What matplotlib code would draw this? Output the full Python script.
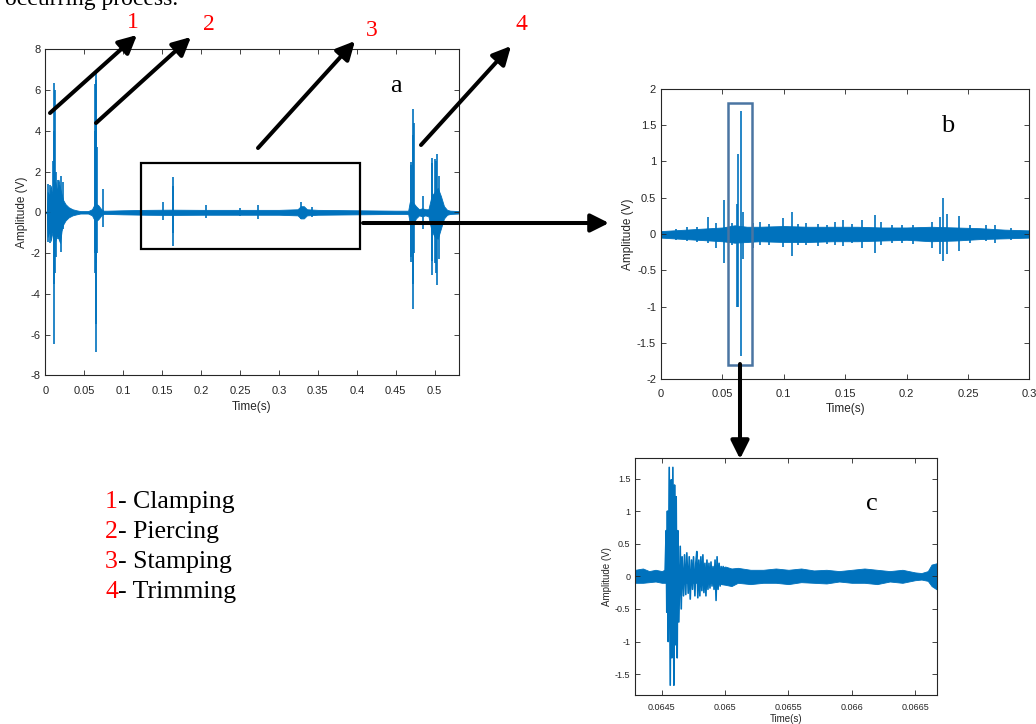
import numpy as np
import matplotlib
matplotlib.use("Agg")
import matplotlib.pyplot as plt
from matplotlib.patches import Rectangle
from matplotlib.ticker import FuncFormatter, MultipleLocator

# ---- panel a : whole record ----
a_env_t = [0, 0.002, 0.003, 0.005, 0.007, 0.009, 0.011, 0.013, 0.015, 0.017, 0.019, 0.021,
           0.023, 0.026, 0.030, 0.035, 0.040,
           0.045, 0.055, 0.060, 0.062, 0.064, 0.066, 0.068, 0.070, 0.072, 0.075, 0.080, 0.10,
           0.13, 0.16, 0.20, 0.25, 0.30, 0.324, 0.328, 0.332, 0.336, 0.35, 0.40, 0.45, 0.466,
           0.468, 0.472, 0.476, 0.480, 0.484, 0.488, 0.492, 0.496, 0.500, 0.504, 0.508, 0.512,
           0.516, 0.520, 0.531]
a_env_hi = [0.02, 0.05, 1.0, 0.8, 1.3, 0.9, 1.2, 1.5, 1.0, 1.6, 1.2, 0.9,
            0.6, 0.4, 0.25, 0.15, 0.1,
            0.06, 0.06, 0.15, 0.3, 0.4, 0.4, 0.35, 0.25, 0.15, 0.08, 0.08, 0.1,
            0.12, 0.13, 0.12, 0.12, 0.12, 0.15, 0.3, 0.3, 0.15, 0.12, 0.1, 0.08, 0.08,
            0.5, 0.5, 0.3, 0.15, 0.2, 0.15, 0.15, 0.8, 1.0, 1.2, 0.8, 0.3,
            0.12, 0.08, 0.06]
a_env_lo = [-0.02, -0.05, -1.2, -0.9, -1.4, -1.0, -1.3, -1.4, -1.1, -1.3, -1.5, -0.9,
            -0.6, -0.4, -0.25, -0.15, -0.1,
            -0.06, -0.06, -0.15, -0.3, -0.4, -0.4, -0.35, -0.25, -0.15, -0.08, -0.08, -0.1,
            -0.12, -0.13, -0.12, -0.12, -0.12, -0.15, -0.3, -0.3, -0.15, -0.12, -0.1, -0.08, -0.08,
            -0.5, -0.6, -0.3, -0.15, -0.2, -0.15, -0.2, -0.9, -1.2, -1.3, -0.8, -0.3,
            -0.12, -0.08, -0.06]
a_spk_t = [0.0035, 0.006, 0.0105, 0.0113, 0.0116, 0.0125, 0.0137, 0.0165, 0.0197, 0.0225,
           0.0638, 0.064, 0.0648, 0.0651, 0.0655, 0.0665, 0.0745, 0.1507, 0.1635, 0.1644,
           0.207, 0.25, 0.2735, 0.329, 0.343, 0.4692, 0.4695, 0.4722, 0.4726, 0.4735, 0.4853,
           0.4965, 0.4969, 0.500, 0.5022, 0.5026, 0.506]
a_spk_hi = [1.4, 1.35, 2.5, 4.0, 6.36, 6.0, 2.0, 1.6, 1.78, 1.5,
            4.0, 6.3, 6.5, 6.9, 4.3, 3.2, 1.13, 0.52, 1.3, 1.75,
            0.36, 0.2, 0.35, 0.52, 0.25, 2.3, 2.48, 3.8, 5.05, 4.4, 0.8,
            2.4, 2.65, 2.6, 2.5, 2.85, 1.8]
a_spk_lo = [-1.45, -1.5, -1.0, -3.5, -6.46, -3.0, -2.2, -1.3, -1.93, -0.8,
            -2.0, -3.0, -5.5, -6.84, -2.5, -2.0, -0.7, -0.38, -1.0, -1.65,
            -0.3, -0.2, -0.35, -0.34, -0.25, -2.2, -2.42, -3.5, -4.76, -2.0, -0.8,
            -2.4, -3.08, -2.5, -3.0, -3.57, -2.3]

# ---- panel b : stamping zoom ----
b_env_t = [0, 0.01, 0.02, 0.03, 0.04, 0.05, 0.06, 0.07, 0.08, 0.10, 0.12, 0.14, 0.16,
           0.18, 0.20, 0.22, 0.24, 0.26, 0.28, 0.30]
b_env_hi = [0.04, 0.05, 0.06, 0.07, 0.08, 0.09, 0.12, 0.1, 0.1, 0.11, 0.1, 0.1, 0.1,
            0.09, 0.09, 0.1, 0.09, 0.08, 0.06, 0.05]
b_env_lo = [-0.05, -0.06, -0.07, -0.08, -0.09, -0.1, -0.12, -0.11, -0.1, -0.11, -0.11, -0.1, -0.1,
            -0.09, -0.08, -0.1, -0.09, -0.07, -0.06, -0.05]
b_spk_t = [0.012, 0.021, 0.029, 0.0385, 0.045, 0.0513, 0.058, 0.0622, 0.063, 0.0649, 0.0665,
           0.075, 0.0805, 0.088, 0.099, 0.1065, 0.112, 0.118, 0.128, 0.135, 0.1417, 0.1485,
           0.156, 0.164, 0.1743, 0.179, 0.188, 0.196, 0.205, 0.2205, 0.227, 0.2298, 0.2327,
           0.2427, 0.252, 0.2645, 0.272, 0.285]
b_spk_hi = [0.07, 0.09, 0.1, 0.24, 0.15, 0.47, 0.15, 0.42, 1.11, 1.69, 0.3,
            0.15, 0.17, 0.14, 0.22, 0.31, 0.14, 0.15, 0.14, 0.13, 0.17, 0.19,
            0.14, 0.19, 0.26, 0.16, 0.13, 0.12, 0.13, 0.17, 0.24, 0.49, 0.28,
            0.25, 0.12, 0.12, 0.13, 0.08]
b_spk_lo = [-0.08, -0.09, -0.11, -0.13, -0.2, -0.4, -0.15, -1.0, -1.0, -1.68, -0.35,
            -0.2, -0.15, -0.15, -0.18, -0.31, -0.15, -0.15, -0.16, -0.14, -0.15, -0.17,
            -0.13, -0.2, -0.26, -0.15, -0.13, -0.12, -0.14, -0.2, -0.27, -0.37, -0.27,
            -0.23, -0.13, -0.1, -0.12, -0.08]

# ---- panel c : single piercing event ----
c_env_t = [0.06429, 0.06435, 0.06440, 0.06445, 0.06450, 0.06452, 0.06470, 0.06490, 0.06500,
           0.06505, 0.06510, 0.06520, 0.06530, 0.06540, 0.06550, 0.06560, 0.06570, 0.06580,
           0.06590, 0.06600, 0.06610, 0.06620, 0.06630, 0.06640, 0.06650, 0.06655, 0.06660,
           0.06663, 0.06667]
c_env_hi = [0.1, 0.12, 0.08, 0.1, 0.08, 0.1, 0.1, 0.1, 0.15, 0.12, 0.13, 0.1, 0.1, 0.12,
            0.1, 0.12, 0.09, 0.1, 0.08, 0.1, 0.12, 0.1, 0.08, 0.1, 0.06, 0.05, 0.08, 0.18, 0.2]
c_env_lo = [-0.1, -0.1, -0.09, -0.08, -0.1, -0.1, -0.1, -0.1, -0.13, -0.15, -0.1, -0.12,
            -0.1, -0.1, -0.12, -0.09, -0.1, -0.11, -0.08, -0.1, -0.1, -0.12, -0.08, -0.1,
            -0.06, -0.05, -0.07, -0.15, -0.2]
c_pk_t = [0.064526, 0.064534, 0.064539, 0.064544, 0.06455, 0.064558, 0.064566, 0.064574,
          0.064579, 0.064587, 0.064595, 0.0646, 0.064608, 0.064613, 0.064621, 0.064626,
          0.064634, 0.064645, 0.064653, 0.06466, 0.064671, 0.064679, 0.064689, 0.064697,
          0.064708, 0.064716, 0.064724, 0.064734, 0.064742, 0.06475, 0.064761, 0.064768,
          0.064776, 0.064784, 0.064792, 0.0648, 0.064808, 0.064816, 0.064824, 0.064832,
          0.06484, 0.064848, 0.064856, 0.064864, 0.064872, 0.06488, 0.064888, 0.064896,
          0.064904, 0.064912, 0.06492, 0.064928, 0.064936, 0.064944, 0.064952, 0.06496,
          0.064968, 0.064976, 0.064984, 0.064992, 0.065]
c_pk_v = [0.1, 0.7, -0.55, 1.0, -1.0, 1.67, -1.67, 1.48,
          -1.25, 1.67, -1.67, 1.4, -1.05, 1.22, -1.25, 0.7,
          -0.7, 0.46, -0.5, 0.3, -0.3, 0.33, -0.28, 0.36,
          -0.26, 0.3, -0.35, 0.25, -0.2, 0.3, -0.3, 0.2,
          0.38, -0.33, 0.25, -0.3, 0.3, -0.22, 0.33, -0.25,
          0.2, -0.3, 0.25, -0.2, 0.2, -0.18, 0.22, -0.15,
          0.15, -0.2, 0.25, -0.37, 0.3, -0.2, 0.2, -0.15,
          0.15, -0.12, 0.15, -0.1, 0.1]

process_names = ["Clamping", "Piercing", "Stamping", "Trimming"]

BLUE = "#0072BD"
GREY = "#262626"
plt.rcParams["font.family"] = ["Liberation Sans", "DejaVu Sans"]

fmt = FuncFormatter(lambda v, p: "%g" % round(v, 6))


def style(ax, size, pad, lpad):
    ax.tick_params(direction="in", top=True, right=True, labelsize=size,
                   colors=GREY, length=3.5, width=0.6)
    ax.tick_params(axis="x", pad=pad)
    for s in ax.spines.values():
        s.set_color(GREY)
        s.set_linewidth(0.8)
    ax.xaxis.set_major_formatter(fmt)
    ax.yaxis.set_major_formatter(fmt)
    ax.set_xlabel("Time(s)", fontsize=size + 0.5, color=GREY, labelpad=lpad)
    ax.set_ylabel("Amplitude (V)", fontsize=size + 0.5, color=GREY, labelpad=2)


def signal(ax, t, hi, lo, st, sh, sl):
    ax.fill_between(t, lo, hi, color=BLUE, lw=0.6, edgecolor=BLUE)
    ax.vlines(st, sl, sh, color=BLUE, lw=1.2)


fig = plt.figure(figsize=(10.36, 7.24), dpi=100)

ax_a = fig.add_axes([0.0437, 0.4816, 0.399, 0.4503])
signal(ax_a, a_env_t, a_env_hi, a_env_lo, a_spk_t, a_spk_hi, a_spk_lo)
ax_a.set_xlim(0, 0.5308)
ax_a.set_ylim(-8, 8)
ax_a.xaxis.set_major_locator(MultipleLocator(0.05))
ax_a.yaxis.set_major_locator(MultipleLocator(2))
style(ax_a, 8, 7.5, 3.5)
ax_a.add_patch(Rectangle((0.123, -1.8), 0.281, 4.22, fill=False, ec="k", lw=1.6,
                         clip_on=False, zorder=5))

ax_b = fig.add_axes([0.638, 0.4765, 0.3555, 0.4006])
signal(ax_b, b_env_t, b_env_hi, b_env_lo, b_spk_t, b_spk_hi, b_spk_lo)
ax_b.set_xlim(0, 0.3)
ax_b.set_ylim(-2, 2)
ax_b.xaxis.set_major_locator(MultipleLocator(0.05))
ax_b.yaxis.set_major_locator(MultipleLocator(0.5))
style(ax_b, 8, 7, 3)
ax_b.add_patch(Rectangle((0.0548, -1.8), 0.0196, 3.6, fill=False, ec="#4a75a2", lw=1.8,
                         clip_on=False, zorder=5))

ax_c = fig.add_axes([0.6132, 0.0401, 0.2909, 0.3278])
ax_c.fill_between(c_env_t, c_env_lo, c_env_hi, color=BLUE, lw=0.6, edgecolor=BLUE)
ax_c.plot(c_pk_t, c_pk_v, color=BLUE, lw=1.2)
ax_c.set_xlim(0.06429, 0.06667)
ax_c.set_ylim(-1.82, 1.82)
ax_c.set_xticks([0.0645, 0.065, 0.0655, 0.066, 0.0665])
ax_c.yaxis.set_major_locator(MultipleLocator(0.5))
style(ax_c, 6.5, 5.5, 1.5)

# overlay in image pixel coordinates for arrows and texts
ov = fig.add_axes([0, 0, 1, 1], zorder=10)
ov.set_xlim(0, 1036)
ov.set_ylim(724, 0)
ov.axis("off")
ov.patch.set_visible(False)

arrows = [((50, 113), (137, 35)), ((96, 123), (191, 37)), ((258, 148), (355, 41)),
          ((421, 145), (511, 46)), ((363, 223), (609, 223)), ((740, 364), (740, 459))]
for tail, head in arrows:
    ov.annotate("", xy=head, xytext=tail,
                arrowprops=dict(arrowstyle="-|>,head_length=0.5,head_width=0.25",
                                lw=2.9, color="k", mutation_scale=22,
                                shrinkA=0, shrinkB=0))

serif = ["Liberation Serif", "DejaVu Serif"]
for lab, (x, y) in zip("1234", [(133, 22), (209, 24), (372, 31), (521, 24)]):
    ov.text(x, y, lab, color="red", fontsize=17, family=serif, ha="center", va="center")

ov.text(396, 86, "a", fontsize=19, family=serif, ha="center", va="center")
ov.text(948, 126, "b", fontsize=19, family=serif, ha="center", va="center")
ov.text(872, 504, "c", fontsize=19, family=serif, ha="center", va="center")

ov.text(5, 5, "occurring process.", fontsize=17, family=serif, ha="left", va="baseline")

for i, name in enumerate(process_names):
    y = 502 + 30 * i
    ov.text(105, y, str(i + 1), color="red", fontsize=18.5, family=serif, ha="left", va="center")
    ov.text(118, y, "- " + name, color="k", fontsize=18.5, family=serif, ha="left", va="center")

fig.savefig("out.png", dpi=100)
